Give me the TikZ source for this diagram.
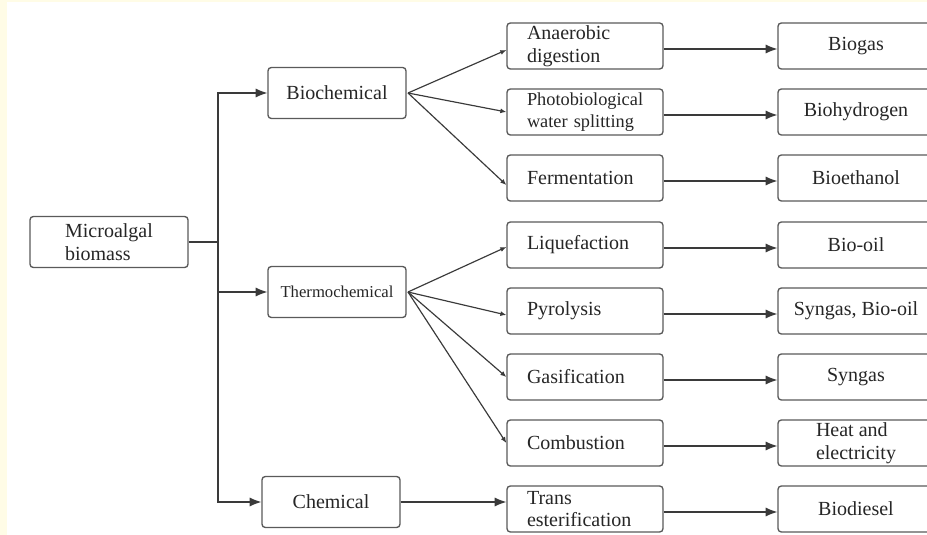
\documentclass[tikz,border=0pt]{standalone}
\usepackage{fontspec}
\setmainfont{Liberation Serif}
\usepackage{tikz}
\usetikzlibrary{positioning, arrows.meta}

\definecolor{cream}{HTML}{FFFCE6}
\definecolor{lineg}{HTML}{3A3A3A}
\definecolor{boxg}{HTML}{5A5A5A}
\definecolor{textg}{HTML}{262626}

\begin{document}
\begin{tikzpicture}[x=0.6pt, y=-0.6pt,
    box/.style={draw=boxg, line width=0.8pt, rounded corners=2pt, text=textg,
        font=\fontsize{12}{13.5}\selectfont, inner sep=1pt},
    mainbox/.style={box, minimum width=94.8pt, minimum height=30.6pt, align=left},
    catbox/.style={box, minimum width=82.8pt, minimum height=30.6pt},
    procbox/.style={box, minimum height=27.6pt, inner xsep=12pt, text width=69.6pt, align=left},
    prodbox/.style={box, minimum width=93.6pt, minimum height=27.6pt, align=center},
    arr/.style={draw=lineg, line width=0.7pt, -{Latex[length=7pt, width=5.5pt]}},
    fanarr/.style={draw=lineg, line width=0.7pt, -{Latex[length=3.6pt, width=3pt]}}]
    \clip (0,0) rectangle (927,535);
    \useasboundingbox (0,0) rectangle (927,535);
    \fill[cream] (0,0) rectangle (927,535);
    \fill[white] (7,2) rectangle (927,535);

    % source and routes
    \node[mainbox] (biomass) at (109,242) {Microalgal\\biomass};
    \node[catbox] (bioch) at (337,93) {Biochemical};
    \node[catbox, font=\fontsize{10}{12}\selectfont] (therm) at (337,292) {Thermochemical};
    \node[catbox] (chem) at (331,502) {Chemical};

    % processes
    \node[procbox] (anaer) at (585,46) {Anaerobic\\digestion};
    \node[procbox, font=\fontsize{11}{13}\selectfont] (photo) at (585,112) {Photobiological\\water splitting};
    \node[procbox] (ferm) at (585,178) {Fermentation};
    \node[procbox] (liq) at (585,245) {Liquefaction};
    \node[procbox] (pyro) at (585,311) {Pyrolysis};
    \node[procbox] (gasif) at (585,377) {Gasification};
    \node[procbox] (comb) at (585,443) {Combustion};
    \node[procbox] (trans) at (585,509) {Trans\\esterification};

    % products
    \node[prodbox] (biogas) at (856,46) {Biogas};
    \node[prodbox] (biohyd) at (856,112) {Biohydrogen};
    \node[prodbox] (bioeth) at (856,178) {Bioethanol};
    \node[prodbox] (biooil) at (856,245) {Bio-oil};
    \node[prodbox] (synoil) at (856,311) {Syngas, Bio-oil};
    \node[prodbox] (syngas) at (856,377) {Syngas};
    \node[prodbox, align=left] (heat) at (856,443) {Heat and\\electricity};
    \node[prodbox] (biodies) at (856,509) {Biodiesel};

    % trunk
    \coordinate (jn) at (218,242);
    \draw[draw=lineg, line width=0.7pt] (biomass.east) -- (jn);
    \draw[arr] (jn) |- (bioch.west);
    \draw[arr] (jn) |- (therm.west);
    \draw[arr] (jn) |- (chem.west);

    % fans
    \coordinate (bfan) at (408,93);
    \coordinate (tfan) at (408,292);
    \draw[fanarr] (bfan) -- ([yshift=-2.4pt]anaer.west);
    \draw[fanarr] (bfan) -- (photo.west);
    \draw[fanarr] (bfan) -- ([yshift=-4.2pt]ferm.west);
    \draw[fanarr] (tfan) -- ([yshift=-1.2pt]liq.west);
    \draw[fanarr] (tfan) -- ([yshift=-2.4pt]pyro.west);
    \draw[fanarr] (tfan) -- (gasif.west);
    \draw[fanarr] (tfan) -- (comb.west);
    \draw[arr] (chem.east) -- (chem.east -| trans.west);

    % process to product
    \foreach \a/\b in {anaer/biogas, photo/biohyd, ferm/bioeth, liq/biooil,
        pyro/synoil, gasif/syngas, comb/heat, trans/biodies}
        \draw[arr] ([yshift=-1.8pt]\a.east) -- ([yshift=-1.8pt]\b.west);
\end{tikzpicture}
\end{document}
